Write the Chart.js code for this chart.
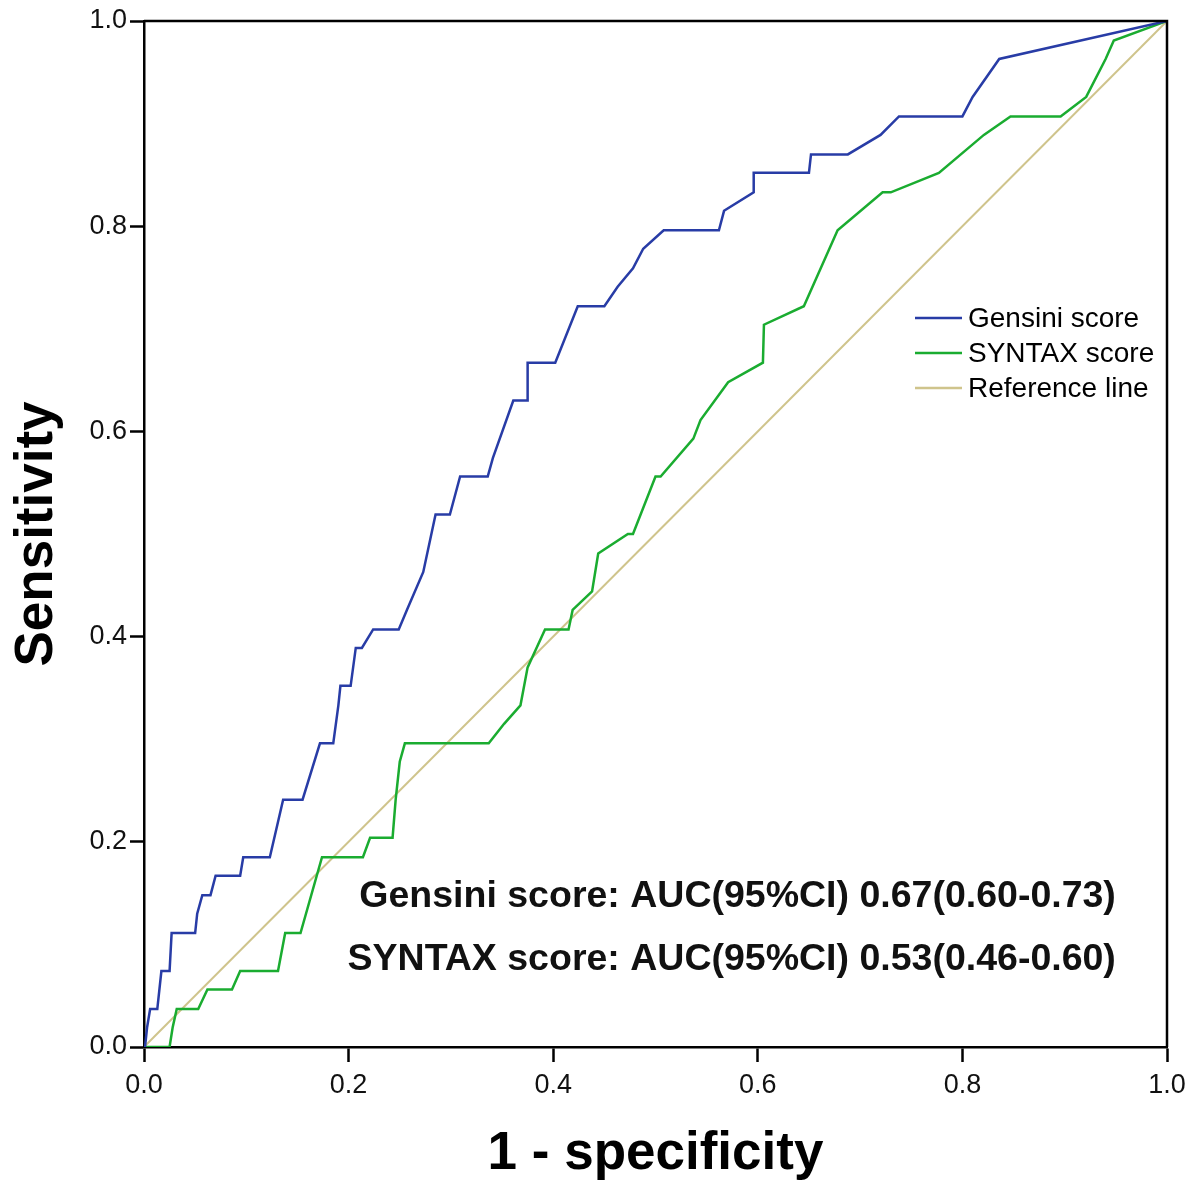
<!DOCTYPE html>
<html>
<head>
<meta charset="utf-8">
<script src="https://cdn.jsdelivr.net/npm/chart.js"></script>
<style>
  html, body { margin: 0; padding: 0; background: #fff; }
  #roc { display: block; }
</style>
</head>
<body>
<canvas id="roc" width="1187" height="1183"></canvas>
<script>
// ROC curve points (1 - specificity, sensitivity)
const gensiniFpr = [0, 0.001, 0.003, 0.006, 0.013, 0.017, 0.025, 0.027, 0.050, 0.052, 0.057, 0.065, 0.070, 0.094, 0.097, 0.123, 0.136, 0.155, 0.172, 0.185, 0.190, 0.192, 0.202, 0.207, 0.213, 0.224, 0.249, 0.257, 0.273, 0.285, 0.299, 0.309, 0.336, 0.341, 0.361, 0.375, 0.375, 0.402, 0.424, 0.450, 0.463, 0.478, 0.488, 0.508, 0.562, 0.567, 0.596, 0.596, 0.650, 0.652, 0.688, 0.720, 0.738, 0.800, 0.810, 0.836, 1];
const gensiniTpr = [0, 0, 0.019, 0.037, 0.037, 0.074, 0.074, 0.111, 0.111, 0.130, 0.148, 0.148, 0.167, 0.167, 0.185, 0.185, 0.241, 0.241, 0.296, 0.296, 0.333, 0.352, 0.352, 0.389, 0.389, 0.407, 0.407, 0.426, 0.463, 0.519, 0.519, 0.556, 0.556, 0.574, 0.630, 0.630, 0.667, 0.667, 0.722, 0.722, 0.741, 0.759, 0.778, 0.796, 0.796, 0.815, 0.833, 0.852, 0.852, 0.870, 0.870, 0.889, 0.907, 0.907, 0.926, 0.963, 1];

const syntaxFpr = [0, 0.025, 0.028, 0.032, 0.053, 0.062, 0.086, 0.094, 0.131, 0.138, 0.153, 0.174, 0.214, 0.221, 0.243, 0.246, 0.250, 0.255, 0.337, 0.352, 0.368, 0.375, 0.392, 0.415, 0.419, 0.438, 0.444, 0.473, 0.478, 0.500, 0.505, 0.537, 0.544, 0.571, 0.605, 0.606, 0.645, 0.678, 0.722, 0.730, 0.777, 0.821, 0.847, 0.896, 0.921, 0.940, 0.948, 1];
const syntaxTpr = [0, 0, 0.019, 0.037, 0.037, 0.056, 0.056, 0.074, 0.074, 0.111, 0.111, 0.185, 0.185, 0.204, 0.204, 0.241, 0.278, 0.296, 0.296, 0.315, 0.333, 0.370, 0.407, 0.407, 0.426, 0.444, 0.481, 0.500, 0.500, 0.556, 0.556, 0.593, 0.611, 0.648, 0.667, 0.704, 0.722, 0.796, 0.833, 0.833, 0.852, 0.889, 0.907, 0.907, 0.926, 0.963, 0.981, 1];

const refFpr = [0, 1];
const refTpr = [0, 1];

const seriesNames = ['Gensini score', 'SYNTAX score', 'Reference line'];
const seriesColors = ['#283ca6', '#1aac30', '#cfc48c'];
const aucLines = ['Gensini score: AUC(95%CI) 0.67(0.60-0.73)', 'SYNTAX score: AUC(95%CI) 0.53(0.46-0.60)'];
const tickValues = [0, 0.2, 0.4, 0.6, 0.8, 1.0];

const FONT = '"Liberation Sans", Arial, sans-serif';

function toPoints(xs, ys) {
    return xs.map((x, i) => ({ x: x, y: ys[i] }));
}

// box around the plot + legend + AUC text
const extras = {
    id: 'extras',
    afterDraw(chart) {
        const ctx = chart.ctx;
        const a = chart.chartArea;
        const xs = chart.scales.x, ys = chart.scales.y;
        ctx.save();
        ctx.strokeStyle = '#000';
        ctx.lineWidth = 2.5;
        ctx.beginPath();
        ctx.moveTo(a.left, a.top);
        ctx.lineTo(a.right, a.top);
        ctx.lineTo(a.right, a.bottom);
        ctx.stroke();

        // legend
        ctx.font = '28px ' + FONT;
        ctx.textBaseline = 'middle';
        ctx.textAlign = 'left';
        seriesNames.forEach((name, i) => {
            const yy = 318 + i * 35;
            ctx.strokeStyle = seriesColors[i];
            ctx.lineWidth = 2.5;
            ctx.beginPath();
            ctx.moveTo(915, yy);
            ctx.lineTo(962, yy);
            ctx.stroke();
            ctx.fillStyle = '#000';
            ctx.fillText(name, 968, yy + 1);
        });

        // AUC annotation
        ctx.font = 'bold 37.5px ' + FONT;
        ctx.textAlign = 'right';
        ctx.textBaseline = 'alphabetic';
        ctx.fillStyle = '#111';
        ctx.fillText(aucLines[0], xs.getPixelForValue(0.950), ys.getPixelForValue(0.136));
        ctx.fillText(aucLines[1], xs.getPixelForValue(0.950), ys.getPixelForValue(0.075));
        ctx.restore();
    }
};

new Chart(document.getElementById('roc'), {
    type: 'scatter',
    data: {
        datasets: [
            { label: seriesNames[2], data: toPoints(refFpr, refTpr), borderColor: seriesColors[2], borderWidth: 2, showLine: true, pointRadius: 0, order: 3 },
            { label: seriesNames[1], data: toPoints(syntaxFpr, syntaxTpr), borderColor: seriesColors[1], borderWidth: 2.5, showLine: true, pointRadius: 0, order: 2 },
            { label: seriesNames[0], data: toPoints(gensiniFpr, gensiniTpr), borderColor: seriesColors[0], borderWidth: 2.5, showLine: true, pointRadius: 0, order: 1 }
        ]
    },
    options: {
        responsive: false,
        animation: false,
        layout: { padding: { top: 21, right: 20, left: 0, bottom: 0 } },
        plugins: {
            legend: { display: false },
            tooltip: { enabled: false }
        },
        scales: {
            x: {
                type: 'linear',
                min: 0,
                max: 1,
                afterFit: function(scale) {
                    scale.height = 136;
                    scale.paddingLeft = 0;
                    scale.paddingRight = 0;
                },
                afterBuildTicks: function(scale) { scale.ticks = tickValues.map(v => ({ value: v })); },
                border: { display: true, color: '#000', width: 2.5 },
                grid: { drawOnChartArea: false, drawTicks: true, tickLength: 15, tickColor: '#000', tickWidth: 2.5 },
                ticks: {
                    color: '#111',
                    padding: 7,
                    autoSkip: false,
                    maxRotation: 0,
                    font: { family: FONT, size: 27 },
                    callback: v => v.toFixed(1)
                },
                title: {
                    display: true,
                    text: '1 - specificity',
                    color: '#000',
                    padding: { top: 0, bottom: 2 },
                    font: { family: FONT, size: 53, weight: 'bold', lineHeight: 1 }
                }
            },
            y: {
                type: 'linear',
                min: 0,
                max: 1,
                afterFit: function(scale) {
                    scale.width = 144;
                    scale.paddingTop = 0;
                    scale.paddingBottom = 0;
                },
                afterBuildTicks: function(scale) { scale.ticks = tickValues.map(v => ({ value: v })); },
                border: { display: true, color: '#000', width: 2.5 },
                grid: { drawOnChartArea: false, drawTicks: true, tickLength: 14, tickColor: '#000', tickWidth: 2.5 },
                ticks: {
                    color: '#111',
                    padding: 3,
                    font: { family: FONT, size: 27 },
                    callback: v => v.toFixed(1)
                },
                title: {
                    display: true,
                    text: 'Sensitivity',
                    color: '#000',
                    padding: { top: 11, bottom: 0 },
                    font: { family: FONT, size: 53, weight: 'bold', lineHeight: 1 }
                }
            }
        }
    },
    plugins: [extras]
});
</script>
</body>
</html>
